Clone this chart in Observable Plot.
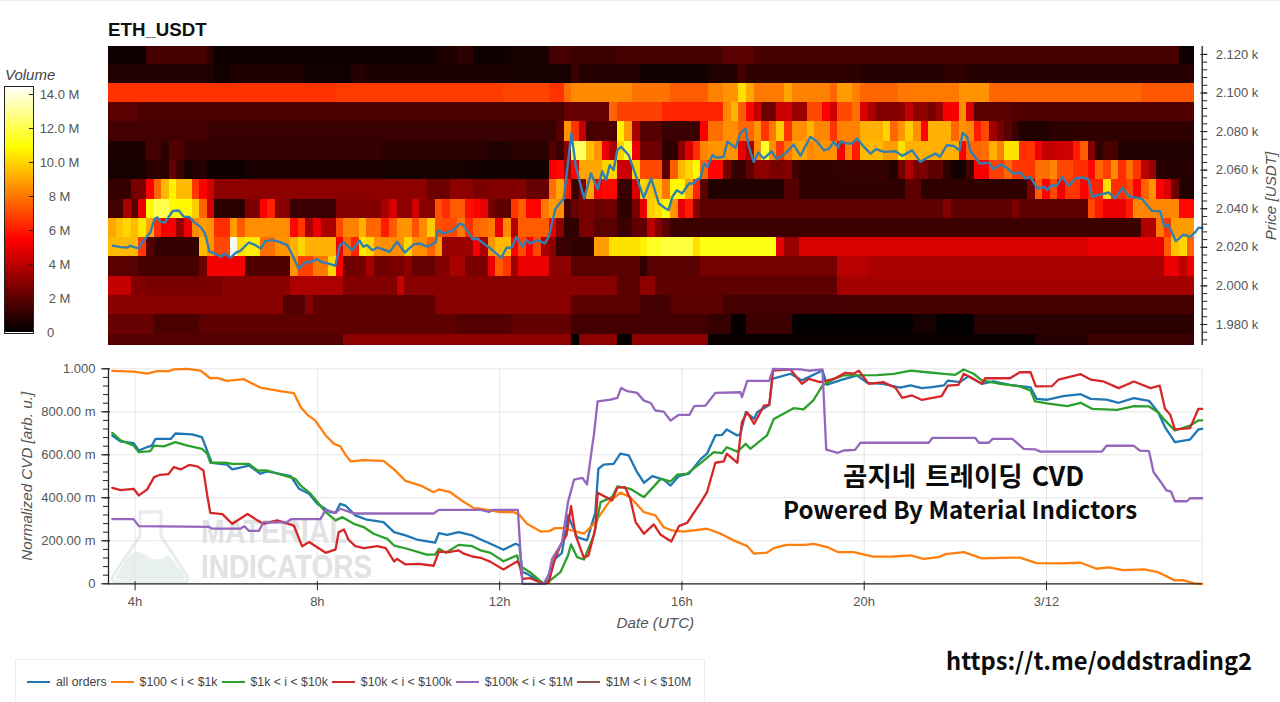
<!DOCTYPE html>
<html><head><meta charset="utf-8">
<script src="https://cdn.jsdelivr.net/npm/d3@7"></script>
<script src="https://cdn.jsdelivr.net/npm/@observablehq/plot@0.6"></script>
<style>
html,body{margin:0;padding:0;background:#fff;}
#page{position:relative;width:1280px;height:702px;overflow:hidden;font-family:"Liberation Sans",Arial,sans-serif;}
#page>*{position:absolute;}
.over{font-family:"Noto Sans CJK KR","Noto Sans",sans-serif;font-weight:700;color:#0c0c0c;white-space:nowrap;}
#legend{left:15px;top:659px;width:690px;height:60px;border:1px solid #eee;box-sizing:border-box;display:flex;align-items:flex-start;padding:15px 0 0 11px;font-size:12.3px;color:#444;}
#legend span{display:inline-flex;align-items:center;margin-right:4px;white-space:nowrap;}
#legend i{display:inline-block;width:23px;height:2px;margin-right:6px;}
</style></head><body>
<div id="page">
<div style="left:0;top:0;width:1280px;height:1px;background:#ececec;"></div>
<div style="left:108px;top:19px;font-weight:700;font-size:18.7px;color:#111;line-height:22px;">ETH_USDT</div>
<div style="left:5px;top:67px;font-style:italic;font-size:15px;color:#444;line-height:16px;">Volume</div>
<svg width="420" height="90" viewBox="0 0 420 90" style="left:100px;top:505px;">
  <path d="M38 7 L62 7 M40 7 L40 31 L14 69 Q9 77 18 77 L82 77 Q91 77 86 69 L61 31 L61 7" fill="none" stroke="#e9ecec" stroke-width="3"/>
  <path d="M17 69 L28 52 Q38 42 48 52 Q58 58 68 50 L84 69 Q87 75 80 75 L20 75 Q13 75 17 69Z" fill="#e7f0ef"/>
  <text x="101" y="38" font-family="Liberation Sans" font-weight="700" font-size="34" fill="#e0e2e4" textLength="146" lengthAdjust="spacingAndGlyphs">MATERIAL</text>
  <text x="101" y="73" font-family="Liberation Sans" font-weight="700" font-size="34" fill="#e0e2e4" textLength="171" lengthAdjust="spacingAndGlyphs">INDICATORS</text>
</svg>
<div id="heat" style="left:0;top:0;"></div>
<div id="bar" style="left:0;top:80px;"></div>
<div id="cvd" style="left:0;top:354px;"></div>
<div class="over" style="left:843px;top:457px;font-size:26.5px;line-height:36px;word-spacing:3px;">곰지네 트레이딩 CVD</div>
<div class="over" style="left:783px;top:491px;font-size:24.1px;line-height:36px;">Powered By Material Indictors</div>
<div class="over" style="left:946px;top:642px;font-size:23.7px;line-height:36px;">https://t.me/oddstrading2</div>
<div id="legend"></div>
</div>
<script>
// ---- Heatmap: [first 10-minute bin of a run, volume in millions] per price level
const heat2120=[[0,.3],[5,1.5],[13,1],[14,.3],[43,.6],[46,1],[48,.3],[53,.5],[58,1.5],[61,1.3],[67,1.5],[81,1.9],[85,1.5],[141,.3]];
const heat2110=[[0,.7],[14,.35],[16,.65],[26,.35],[32,.8],[34,.6],[53,.5],[61,1.3],[62,.8],[70,.35],[79,.7],[83,1.5],[84,1],[99,.8],[110,1],[113,.8]];
const heat2100=[[0,6.5],[30,6.7],[52,6.9],[58,6.5],[60,7.8],[61,8.4],[69,7.9],[74,7.4],[79,8.2],[81,8.6],[83,10.2],[84,9],[85,8],[89,9],[90,8.2],[95,7.6],[96,8.8],[98,8.2],[99,7.6],[104,8],[112,8.6],[116,7.6],[136,7.3]];
const heat2090=[[0,1.9],[4,1.6],[60,2.2],[66,7.6],[67,6.8],[73,6.2],[81,8.3],[82,9.3],[83,7.4],[84,5.5],[85,4.2],[86,2.3],[88,4.3],[90,3.3],[92,7],[94,5.4],[95,4.3],[96,7],[98,7.8],[99,4.6],[100,3.8],[101,2.8],[104,3],[105,4.1],[106,3],[108,2.6],[109,3.3],[110,5.3],[112,8.5],[113,4.6],[114,1.9],[119,1.7]];
const heat2080=[[0,1.4],[13,1.2],[59,1.8],[60,8.6],[61,6.6],[62,4.2],[63,1.4],[64,1.6],[67,10.6],[68,8.8],[69,3.6],[70,1.8],[73,1.2],[78,5.3],[79,7.8],[81,8.5],[83,7.6],[85,8.6],[86,6.6],[87,8],[88,9.8],[89,6.5],[90,8.5],[92,9.3],[93,8.3],[95,6.5],[96,8.2],[99,9.2],[102,10],[103,7.6],[104,8.6],[105,9.8],[106,8.5],[107,5.5],[108,9.2],[111,7.6],[112,8.6],[113,8.3],[114,6],[115,7],[116,3.4],[117,2.6],[118,1.9],[119,1.2],[120,.7],[124,.9],[127,1]];
const heat2070=[[0,.6],[5,1.4],[7,.9],[8,1.7],[10,1.1],[36,.9],[50,.7],[53,.9],[58,1.8],[59,1.2],[60,3],[61,12.3],[63,9.5],[64,8.6],[65,5],[66,3.6],[67,10],[68,11.5],[69,5],[70,2.3],[73,1],[75,3],[76,4.6],[77,6.4],[78,8.3],[79,8.6],[83,5],[84,3.6],[85,8.4],[86,11.5],[87,8.5],[88,6.6],[89,8],[90,9],[92,8.3],[93,8.6],[96,5.3],[97,8.2],[98,6],[99,9.4],[102,8.8],[104,10.3],[105,9.2],[112,5.4],[113,7.6],[115,7.8],[116,9.2],[117,8.2],[118,10.3],[120,6.4],[121,6.6],[122,5.2],[123,4.2],[125,4.4],[127,6],[128,7.4],[129,2.8],[130,1],[131,1.6],[133,.7]];
const heat2060=[[0,.5],[5,.9],[8,2.2],[9,1.3],[10,.6],[11,.8],[13,.3],[18,.6],[36,.5],[47,.4],[58,5.2],[59,5.6],[60,3.6],[61,5.5],[62,9],[65,10],[67,4.3],[69,10],[70,7],[73,2],[74,7.4],[75,9.4],[76,10],[77,10.8],[78,7.6],[79,5.5],[81,2.4],[82,1.1],[84,2],[85,3],[87,2.6],[89,2.8],[90,1.4],[91,1],[96,1.1],[103,.7],[104,2.4],[105,3.8],[106,2.6],[108,2],[110,.9],[111,.4],[113,1.4],[114,5.3],[116,6.8],[118,7.6],[119,6.6],[122,7.8],[124,8.3],[125,7],[127,6.4],[129,5.6],[130,7.6],[131,6.8],[132,8.4],[133,6.4],[134,7.8],[135,6.6],[136,4],[137,3.2],[138,.8]];
const heat2050=[[0,1.1],[3,2.6],[5,5.4],[6,7.6],[7,9.4],[8,10.6],[9,9.4],[11,6.6],[12,5.4],[13,4.4],[14,3],[42,2.3],[45,3],[48,2.6],[50,2.8],[55,2.2],[58,7.8],[59,9],[60,6],[61,1.3],[62,2.8],[63,9],[64,5.2],[65,5.6],[67,1.2],[69,4.6],[70,10],[71,9.6],[73,8],[74,10.8],[76,9],[77,6.2],[78,2],[79,.7],[89,1.8],[91,1],[105,2],[107,.9],[108,1],[121,2.6],[122,7.4],[123,5.4],[124,7],[125,5.2],[126,6.6],[128,5.4],[129,6.2],[131,10.2],[132,6.4],[134,7],[135,5.4],[136,7.5],[137,8.6],[138,5.4],[139,4.6],[140,2.4],[141,.7]];
const heat2040=[[0,1.4],[2,3.6],[3,1.8],[4,5],[5,10.8],[6,12],[8,10.8],[11,9.8],[12,7.6],[13,4.4],[14,.9],[18,2.6],[20,5.4],[21,6.2],[22,2.9],[24,1.2],[30,2.8],[36,3.6],[37,4.6],[38,3],[40,4.4],[41,2.9],[43,7.2],[44,6.4],[45,7.4],[47,5.8],[48,5.5],[49,5],[50,2.5],[51,2],[53,6.6],[54,7.4],[55,5.5],[57,8],[58,8.8],[59,8.5],[60,1.4],[61,2.2],[62,2.6],[64,2.2],[65,2.4],[67,1],[69,2.6],[70,5],[71,9.8],[72,10.2],[73,11],[74,8.6],[75,5],[76,6],[77,2.8],[78,2],[110,2.8],[111,2],[119,2.6],[120,2],[129,7],[130,6],[131,5],[134,6],[135,8.3],[141,5.6]];
const heat2030=[[0,9],[1,9.6],[2,10],[3,9.4],[4,10.4],[5,9],[6,6.4],[7,5.2],[9,3.2],[10,5],[11,8.4],[12,8.8],[13,8.6],[14,6.4],[16,8.8],[17,7.4],[18,8.5],[24,5.6],[25,6.6],[26,3.6],[27,5],[28,3.6],[30,7],[31,8.2],[33,9.2],[34,7.6],[36,6],[37,7.4],[38,8.6],[40,7.2],[41,8.4],[42,9.8],[43,7.2],[44,7],[46,8],[47,6.4],[48,7.6],[49,7.8],[50,8],[51,5],[52,8.4],[53,3.8],[54,7.4],[58,5],[59,3],[60,1],[62,2.6],[64,1.9],[67,1.3],[69,2],[71,4],[72,2.8],[73,2],[74,1.3],[136,3.8],[138,8],[139,6.6],[140,8.8]];
const heat2020=[[0,9.4],[4,6.6],[5,1.8],[6,1.1],[12,9.4],[13,8.6],[14,7],[16,14.3],[17,10.2],[18,10.5],[20,7.8],[22,8.6],[24,9.2],[25,10],[26,9.2],[30,5.2],[31,7.6],[32,6.2],[33,10.4],[34,10],[35,8.6],[36,8.5],[39,10],[40,8.5],[42,7.6],[43,8.8],[44,3.2],[47,3.4],[48,5.2],[49,3.6],[50,8.6],[51,9.4],[53,5.4],[54,7],[55,5.4],[56,7],[57,3.6],[58,2.9],[59,1.2],[61,1],[64,8.8],[66,10.3],[70,10.6],[71,11.4],[73,11.8],[77,10.2],[78,11.2],[88,4.8],[89,3.2],[91,4.6],[129,5],[139,7.4],[140,9.6],[141,10],[142,7.6]];
const heat2010=[[0,1.9],[4,1.5],[12,2.4],[13,5.2],[18,1.7],[24,8.6],[25,6.8],[27,8],[29,10],[30,5.4],[31,2.4],[34,3.5],[35,2.4],[37,2.6],[39,3],[40,2.2],[43,2.8],[45,3.6],[47,2.6],[50,5],[51,7.4],[52,6.6],[53,3.4],[54,5],[58,3],[61,1.9],[70,1],[71,1.9],[78,2.5],[96,3.9],[100,3.6],[139,5],[141,4],[142,5]];
const heat2000=[[0,4.2],[3,2.8],[5,2.6],[15,2.9],[24,3.7],[31,2.8],[38,4.2],[39,2.9],[67,1.9],[70,3],[72,2],[96,3.5]];
const heat1990=[[0,2.9],[23,1.8],[26,2.8],[27,2],[43,2.9],[61,1.9],[70,1.4],[74,1.9],[81,1.4],[96,1.5]];
const heat1980=[[0,2.2],[6,1.6],[12,2],[46,1.8],[53,2.1],[61,1.4],[79,1.1],[82,.1],[84,1.3],[90,.05],[106,.5],[109,.05],[114,.9]];
const heat1970=[[0,1.8],[31,3],[61,.05],[62,3],[67,.05],[69,3],[79,.2],[122,.8],[129,1.3]];
const priceLevels=[2120,2110,2100,2090,2080,2070,2060,2050,2040,2030,2020,2010,2000,1990,1980,1970];
const heatRows=[heat2120,heat2110,heat2100,heat2090,heat2080,heat2070,heat2060,heat2050,heat2040,heat2030,heat2020,heat2010,heat2000,heat1990,heat1980,heat1970];
const heatBins=143;

// ---- Price line: [time read on the heatmap grid, USDT]
const priceLine=[[.58,2020.8],[.93,2020.6],[1.6,2020.1],[2.5,2019.9],[2.9,2020.8],[3.4,2020.1],[4,2019.4],[4.5,2022.9],[5.1,2025.5],[5.6,2028.1],[6.1,2034.6],[6.5,2035.5],[6.9,2033.2],[7.5,2032.9],[8,2035.8],[8.5,2038.8],[9.3,2039.1],[10,2035.8],[10.7,2035.8],[11.3,2033.2],[12.2,2030.6],[12.8,2027.2],[13.4,2017.7],[14.1,2016.8],[14.9,2015.1],[15.4,2016.8],[16.2,2014.6],[16.9,2017.3],[17.5,2018.2],[18.6,2022.5],[19.5,2021.1],[20.2,2019.4],[20.8,2023.2],[21.7,2023.7],[22.6,2022.9],[23.7,2021.1],[24.3,2016.8],[25.2,2009],[26.2,2012.5],[26.8,2012.2],[27.6,2013.9],[28.4,2012.2],[29.2,2011.6],[30.1,2010.4],[30.7,2021.1],[31.2,2022.5],[32.3,2018.5],[33.3,2023.4],[33.8,2020.3],[34.3,2021.1],[35,2018.5],[35.7,2019.9],[36.7,2018.5],[37.3,2017.7],[38.3,2022.9],[39.3,2017.3],[40.5,2021.5],[41.2,2022],[42.3,2020.4],[43.4,2022.5],[43.7,2028.9],[44.5,2027.2],[45.8,2028.9],[46.6,2032.4],[47.1,2031.5],[48.3,2024.2],[48.9,2024.6],[50.5,2019.9],[52.1,2014.6],[52.8,2019.8],[53.5,2019.8],[54.1,2025.5],[54.9,2020.3],[55.5,2023.7],[55.9,2022],[56.9,2023.7],[57.9,2022],[58.4,2025.5],[59.3,2040.1],[60.4,2045.3],[61.4,2079],[62,2061.7],[63.1,2045.3],[64,2058.3],[64.9,2050.1],[65.5,2059.5],[66,2054.8],[66.5,2062.6],[67,2060],[67.5,2070.4],[68,2072.1],[69,2067.8],[71,2045.7],[72,2055.7],[73,2042.7],[73.9,2040.1],[74.3,2039.3],[74.8,2046.2],[75.4,2049.6],[76.1,2047.9],[77,2053.1],[77.6,2053.1],[78.1,2055.3],[78.5,2055.7],[79,2063.4],[79.5,2061.7],[80.1,2067.8],[80.7,2066.4],[81.6,2066.9],[82.1,2074.7],[83.2,2071.6],[83.8,2079],[84.5,2081.6],[84.9,2072.9],[85.6,2064.3],[86.2,2069.1],[86.9,2066],[88,2069.8],[88.6,2065.7],[89.8,2068.6],[90.9,2073.3],[91.8,2067.4],[93.1,2077.3],[94,2074.7],[94.9,2070.3],[95.6,2071.2],[96.2,2074.7],[96.8,2071.6],[97.1,2075],[98,2073.8],[98.6,2073.8],[99.3,2076.4],[100,2073],[101.1,2068.6],[101.8,2070.9],[102.9,2069.5],[104.4,2069.8],[105.3,2067.4],[106.6,2070.3],[107.7,2064.3],[108.6,2066.4],[109.7,2068.6],[110.3,2066.9],[111.2,2072.9],[112.1,2072.6],[112.9,2070.3],[113.3,2079.3],[113.9,2077.2],[114.3,2070.3],[115.6,2063.4],[116.8,2063.9],[117.4,2060.5],[118.3,2062.9],[119.2,2061.2],[120,2058.2],[121,2058.8],[121.6,2055.7],[122.3,2056.5],[123.2,2050.5],[124.1,2051.4],[124.5,2049.6],[125.1,2052.2],[125.8,2051.9],[126.5,2056.5],[127.4,2051.9],[128.3,2055.7],[129.1,2056.2],[130,2055.3],[130.5,2046.2],[131.6,2047.4],[132.7,2048.4],[133.5,2045.3],[134.5,2050.8],[135.3,2046.7],[137.1,2045],[138.4,2038.9],[139.5,2038.7],[140.1,2030.6],[140.6,2031.8],[141.6,2023.2],[142.6,2026.6],[143.5,2025.4],[144.2,2028],[144.6,2030.2],[145.1,2030]];
const priceGridToBin=0.9925;

// ---- CVD series: [10-minute bin, normalized value in milli-units]
const cvdAll=[[.5,690],[1.6,662],[3.3,654],[4,620],[5.1,636],[5.7,643],[6.2,674],[8.2,674],[8.8,699],[11,695],[12.3,682],[13.4,581],[13.6,562],[15.6,554],[16.3,532],[18.5,550],[20,512],[20.9,523],[24,501],[25.1,442],[26.4,419],[27.5,372],[29.2,333],[29.9,330],[30.5,372],[31.2,364],[32.5,318],[34,298],[36.2,287],[37.6,240],[39.1,225],[40.6,206],[43,191],[43.5,236],[44.6,228],[46.1,240],[47.9,225],[49,206],[50.3,186],[52,158],[53.6,186],[54.1,178],[54.5,54],[55.1,47],[57.3,0],[58,20],[58.8,116],[59.7,144],[60.5,318],[61.7,217],[63,202],[64.1,333],[64.5,535],[65.2,554],[66.5,558],[67.4,605],[68.5,597],[69.6,519],[70.5,470],[71.6,501],[73.1,485],[74,457],[75.1,501],[76.4,512],[78,581],[78.8,605],[79.9,690],[80.8,693],[81.4,718],[82.8,690],[83.2,698],[83.9,798],[85,767],[85.4,798],[87,832],[87.4,953],[89.8,977],[91.3,946],[94,992],[94.6,926],[96.6,950],[98.6,969],[99.9,935],[102,930],[104.2,912],[105.6,923],[107.1,910],[108.4,915],[110,923],[110.5,945],[112.1,938],[113.2,965],[115,930],[116.5,941],[118.7,925],[121.4,914],[122.2,860],[123.5,856],[125.7,873],[128,882],[129.3,860],[131.4,857],[133,842],[135,864],[137,851],[138.2,798],[139.1,729],[140.4,659],[142.4,671],[143.5,718],[144,721]];
const cvd100to1k=[[.5,990],[3.3,987],[5.1,978],[6.4,989],[7.9,989],[8.6,997],[10.4,1000],[12.1,992],[13.4,956],[14.3,958],[15.6,944],[17.8,952],[18.7,935],[20,913],[21.3,904],[22.6,896],[24.4,887],[25.3,822],[26.2,786],[27.2,760],[28.6,690],[29.7,651],[30.5,640],[31.2,601],[31.9,569],[33.6,575],[36.2,572],[37.6,532],[39.1,479],[41.1,457],[42.8,426],[43.5,439],[45,426],[46.8,380],[48.1,352],[49,349],[50.3,341],[51.6,333],[53.4,333],[54.1,321],[55.1,279],[56.9,243],[58,245],[58.8,259],[60,259],[61,248],[62.6,233],[63.9,279],[65.9,380],[67.4,424],[68.7,403],[70.5,333],[72,318],[73.1,263],[74.2,248],[75.7,243],[78.8,256],[80.6,233],[82.3,202],[84.1,175],[85,140],[86.7,145],[87.6,166],[89.3,181],[91.7,181],[92.9,186],[94.6,171],[96.1,147],[98.1,147],[100.7,126],[103.4,127],[105.6,132],[107.3,116],[109.3,124],[110.2,138],[112.6,147],[115,118],[117.4,121],[120,122],[122.2,96],[125.3,95],[128,98],[130.1,70],[131.7,76],[133.6,64],[136.3,67],[138.2,54],[140.4,16],[141.5,17],[142.9,2],[144,0]];
const cvd1kto10k=[[.5,702],[1.6,667],[3.3,643],[4,612],[5.5,617],[6,643],[7.3,639],[8.8,659],[10.4,643],[12.3,628],[13,605],[13.4,563],[15.4,563],[16.3,558],[18.5,558],[19.6,527],[20.9,527],[24.6,488],[25.3,457],[26.6,419],[27.5,380],[28.6,333],[29.9,295],[30.8,310],[32.3,279],[33.6,264],[34.9,233],[36.7,209],[37.6,178],[39.3,163],[41.9,136],[43,136],[43.5,163],[44.4,144],[46.1,181],[47.9,175],[49,155],[50.3,144],[52,105],[53.8,132],[54.1,85],[55.5,54],[57.3,0],[58,11],[59.5,54],[60.5,132],[60.9,183],[61.7,124],[62.6,113],[63.9,225],[64.8,380],[66.3,403],[67,453],[68.7,442],[70.5,403],[71.6,445],[72.7,488],[74,476],[74.9,508],[76.2,512],[78,562],[79.7,612],[80.8,608],[81.4,635],[82.8,615],[83.9,651],[84.5,628],[86.7,690],[87.6,767],[90.2,817],[91.5,811],[92.8,853],[94,922],[95.5,953],[96.8,969],[101.2,971],[103.4,976],[105.6,992],[107.8,984],[110,976],[111.5,972],[112.6,997],[113.9,977],[115,946],[117.4,930],[120,918],[121.4,899],[122,848],[124,837],[126.2,826],[128,842],[129.5,814],[132.8,809],[135,826],[137,825],[138.2,798],[139.1,760],[140.4,713],[142.4,736],[143.5,760],[144,760]];
const cvd10kto100k=[[.5,446],[1.6,436],[3.3,442],[4,411],[5.1,439],[6,496],[6.8,507],[7.9,510],[8.6,543],[9.5,532],[10.6,553],[11.7,546],[12.5,527],[13,411],[13.4,330],[15,324],[16.3,279],[18.3,325],[19.6,295],[20.4,279],[22.2,295],[24.4,271],[25.5,174],[26.4,194],[28.6,144],[29.9,160],[30.3,240],[31,253],[31.6,205],[32.5,175],[33.6,166],[35.4,175],[36.5,166],[37.6,104],[38,116],[39.1,90],[40.9,93],[42.8,84],[43.5,150],[44.8,147],[46.1,155],[46.8,140],[47.9,127],[49,121],[50.3,102],[52,67],[53.8,104],[54.1,93],[54.5,23],[55.5,26],[57.3,0],[58,8],[58.6,101],[59.7,194],[60.3,225],[60.9,361],[61.5,225],[62.6,121],[63.2,132],[64.1,256],[64.4,423],[66.3,388],[67,447],[68,450],[68.7,395],[69.4,287],[70.5,233],[71.8,276],[72.7,228],[74.1,197],[75.1,268],[76.2,284],[78,380],[78.8,426],[79.9,563],[81,569],[81.4,605],[82.8,563],[83.4,752],[84.1,798],[85,744],[86.3,829],[87,832],[87.5,992],[89.8,997],[91.3,930],[92.2,953],[93.7,938],[95.5,953],[97,981],[98.1,977],[98.8,991],[100.1,930],[102,938],[103.6,912],[104.5,865],[105.8,876],[107.1,855],[109.7,873],[110.5,922],[111.9,925],[112.6,977],[113.9,953],[115,930],[115.4,956],[118.7,956],[120,984],[121.4,984],[122.1,918],[124.2,919],[125.1,950],[128,975],[129.3,950],[131,941],[133,910],[135,941],[137.2,910],[138.4,922],[139.1,814],[139.8,786],[140.4,718],[142.4,724],[143.5,814],[144,814]];
const cvd100kto1M=[[.5,301],[3.3,301],[4,268],[13.2,265],[13.6,257],[17.4,257],[17.9,268],[18.5,246],[19.8,246],[20.4,286],[23.5,286],[24,301],[27.9,301],[28.6,344],[29.9,330],[30.5,349],[32.3,327],[42.8,327],[43.5,344],[49,344],[50.1,334],[50.5,344],[53.9,344],[54.5,0],[57.3,0],[58,47],[58.4,116],[59.7,190],[60.5,380],[61.3,485],[62.4,493],[63,462],[63.7,643],[63.9,690],[64.4,848],[66.1,857],[67,865],[67.5,911],[68.3,896],[69.6,888],[70.5,852],[71.4,841],[72,806],[73.1,801],[74,759],[75.1,786],[76.5,786],[77.1,826],[78.6,829],[79.9,888],[83.2,891],[83.4,868],[84.1,944],[87,944],[87.5,1000],[91.1,997],[92.2,991],[94,997],[94.5,624],[96,609],[96.8,620],[98.3,623],[99,656],[108,656],[108.5,679],[114.1,679],[114.6,656],[115.9,656],[116.4,674],[119,674],[120.5,628],[122,625],[122.7,615],[130.8,615],[131.4,642],[135,642],[135.8,619],[137,617],[137.6,519],[138.5,476],[139.3,434],[139.9,429],[140.4,384],[142,384],[142.4,398],[144,398]];
const cvd1Mto10M=[];
const seriesNames=["all orders","$100 < i < $1k","$1k < i < $10k","$10k < i < $100k","$100k < i < $1M","$1M < i < $10M"];
const seriesColors=["#1f77b4","#ff7f0e","#2ca02c","#d62728","#9467bd","#8c564b"];
const seriesData=[cvdAll,cvd100to1k,cvd1kto10k,cvd10kto100k,cvd100kto1M,cvd1Mto10M];

// ---- Axis ticks
const timeTicks=[3.5,27.5,51.5,75.5,99.5,123.5];
const timeLabels=["4h","8h","12h","16h","20h","3/12"];
const priceTicks=[1980,2000,2020,2040,2060,2080,2100,2120];
const priceMinor=d3.range(1972,2124,4);
const cvdTicks=[0,200,400,600,800,1000];
const cvdMinor=d3.range(0,1001,40);
const cvdTickLabel=v=>v===0?"0":v===1000?"1.000":v.toFixed(2)+" m";
const volumeTicks=[2,4,6,8,10,12,14];
const volumeTickLabel=v=>v>=10?v.toFixed(1)+" M":v+" M";

const hotScale={type:"linear",domain:[0,5.44,10.9,14.5],range:["#000000","#ff0000","#ffff00","#ffffff"],interpolate:"rgb"};
const font={fontFamily:"Liberation Sans, Arial, sans-serif",fontSize:"13px",color:"#555",background:"transparent"};

const cells=heatRows.flatMap((runs,r)=>runs.map(([b,v],i)=>({
  b1:b,b2:i+1<runs.length?runs[i+1][0]:heatBins,p:priceLevels[r],v})));

document.getElementById("heat").append(Plot.plot({
  width:1280,height:350,marginLeft:108,marginRight:78.3,marginTop:46,marginBottom:5,
  style:font,
  x:{domain:[0,144],axis:null},
  y:{domain:[1969.1,2124.1],axis:null},
  color:hotScale,
  marks:[
    Plot.rect(cells,{x1:"b1",x2:"b2",y1:d=>d.p-5,y2:d=>d.p+5,fill:"v",shapeRendering:"crispEdges",clip:true}),
    Plot.line(priceLine,{x:d=>d[0]*priceGridToBin,y:d=>d[1],stroke:"#327fb0",strokeWidth:2.4,strokeLinejoin:"round"}),
    Plot.ruleX([144],{stroke:"#222",strokeWidth:1.3}),
    Plot.axisY({anchor:"right",ticks:priceTicks,tickSize:7,dx:-2.5,stroke:"#222",tickFormat:()=>"",label:null}),
    Plot.axisY({anchor:"right",ticks:priceMinor,tickSize:4.5,stroke:"#222",tickFormat:()=>"",label:null}),
    Plot.axisY({anchor:"right",ticks:priceTicks,tickSize:0,tickPadding:13.5,tickFormat:v=>(v/1000).toFixed(3)+" k",fill:"#555",
      label:"Price [USDT]",labelAnchor:"center",labelArrow:"none",labelOffset:73.5})
  ]
}));
const heatRects=document.querySelector("#heat svg g[aria-label='rect']");
if(heatRects) heatRects.style.filter="blur(0.6px)";
document.querySelectorAll("#heat svg [aria-label='y-axis label'] text").forEach(t=>{t.style.fontStyle="italic";t.style.fontSize="15.2px";t.setAttribute("fill","#555");});

document.getElementById("bar").append(Plot.plot({
  width:100,height:260,marginLeft:4,marginRight:67,marginTop:6,marginBottom:7,
  style:font,
  x:{domain:[0,1],axis:null},
  y:{domain:[-0.06,14.47],axis:null},
  color:hotScale,
  marks:[
    Plot.rect(d3.range(0,14.47,0.1),{x1:0,x2:1,y1:d=>d,y2:d=>d+0.1,fill:d=>d+0.05,shapeRendering:"crispEdges",clip:true}),
    Plot.frame({stroke:"#222"}),
    Plot.axisY({anchor:"right",ticks:volumeTicks,tickSize:5,dx:-5,stroke:"#222",tickFormat:()=>"",label:null}),
    Plot.axisY({anchor:"right",ticks:volumeTicks,tickSize:0,tickPadding:26,textAnchor:"middle",tickFormat:volumeTickLabel,fill:"#555",label:null}),
    Plot.axisY({anchor:"right",ticks:[0],tickSize:0,tickPadding:17,textAnchor:"middle",tickFormat:()=>"0",fill:"#555",label:null})
  ]
}));

document.getElementById("cvd").append(Plot.plot({
  width:1280,height:285,marginLeft:108,marginRight:78.3,marginTop:14.3,marginBottom:55.7,
  style:font,
  x:{domain:[0,144],axis:null},
  y:{domain:[0,1000],axis:null},
  marks:[
    Plot.gridX({ticks:timeTicks,stroke:"#e6e6e6",strokeOpacity:1}),
    Plot.gridY({ticks:cvdTicks,stroke:"#e6e6e6",strokeOpacity:1}),
    Plot.ruleX([144],{stroke:"#e6e6e6"}),
    ...seriesData.map((s,i)=>Plot.line(s,{x:d=>d[0],y:d=>d[1],stroke:seriesColors[i],strokeWidth:2.3,strokeLinejoin:"round"})),
    Plot.ruleX([0],{stroke:"#222",strokeWidth:1.3}),
    Plot.ruleY([0],{stroke:"#222",strokeWidth:1.3}),
    Plot.axisY({anchor:"left",ticks:cvdTicks,tickSize:9,dx:2,stroke:"#222",tickFormat:()=>"",label:null}),
    Plot.axisY({anchor:"left",ticks:cvdMinor,tickSize:5,stroke:"#222",tickFormat:()=>"",label:null}),
    Plot.axisY({anchor:"left",ticks:cvdTicks,tickSize:0,tickPadding:13,tickFormat:cvdTickLabel,fill:"#555",
      label:"Normalized CVD [arb. u.]",labelAnchor:"center",labelArrow:"none",labelOffset:87}),
    Plot.axisX({anchor:"bottom",ticks:timeTicks,tickSize:9,dy:-2,stroke:"#222",tickFormat:()=>"",label:null}),
    Plot.axisX({anchor:"bottom",ticks:timeTicks,tickSize:0,tickPadding:13,tickFormat:v=>timeLabels[timeTicks.indexOf(v)],fill:"#555",
      label:"Date (UTC)",labelAnchor:"center",labelArrow:"none",labelOffset:44})
  ]
}));
document.querySelectorAll("#cvd svg [aria-label$='-axis label'] text").forEach(t=>{t.style.fontStyle="italic";t.style.fontSize="15.2px";t.setAttribute("fill","#555");});

const legend=document.getElementById("legend");
seriesNames.forEach((n,i)=>{
  const s=document.createElement("span");
  const k=document.createElement("i");k.style.background=seriesColors[i];
  s.append(k,document.createTextNode(n));legend.append(s);
});
</script>
</body></html>
